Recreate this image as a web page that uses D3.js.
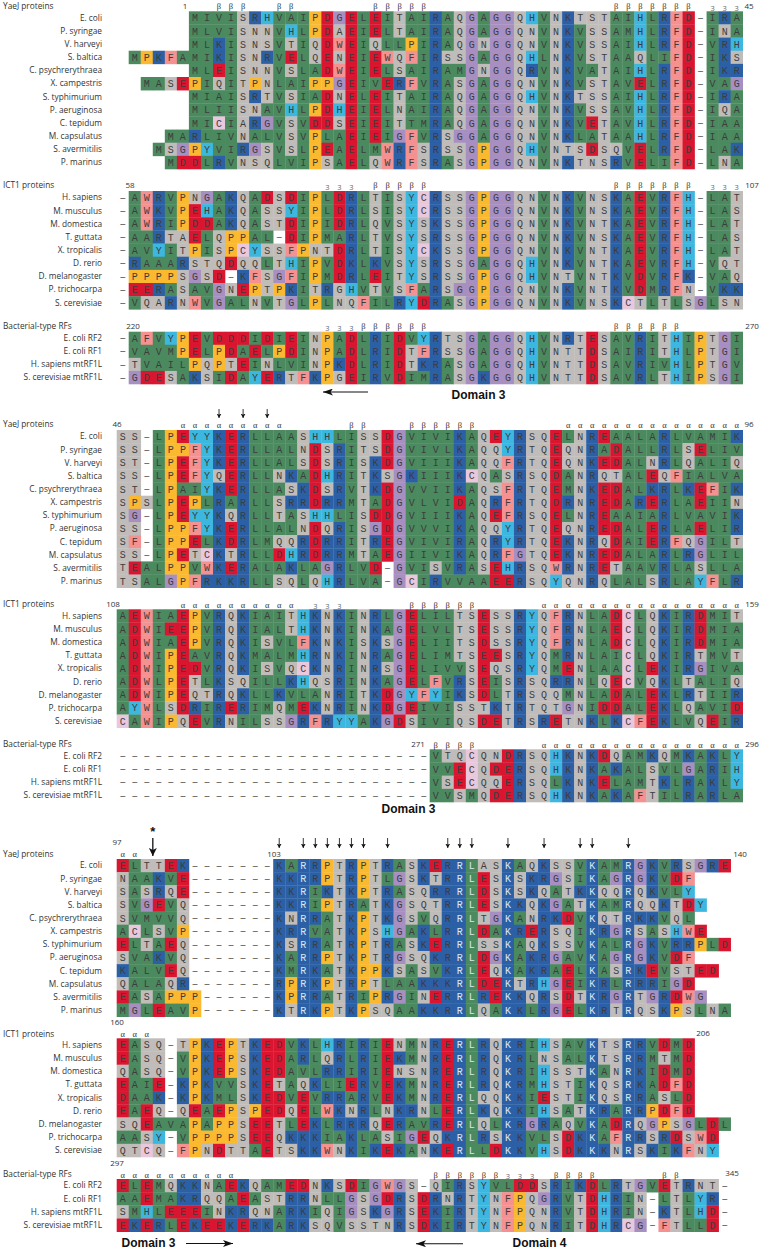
<!DOCTYPE html>
<html><head><meta charset="utf-8">
<script src="https://cdn.jsdelivr.net/npm/d3@7"></script>
<style>body{margin:0;background:#fff}svg{display:block}</style></head>
<body><svg id="c" width="761" height="1251"></svg>
<script>
// Residue strings: upper case = the residue's usual class colour, lower case = exception
// (grey for coloured residues, green for S/T/N/Q). "-" is a gap, " " is empty.
const yaejNames = ["E. coli","P. syringae","V. harveyi","S. baltica","C. psychrerythraea","X. campestris","S. typhimurium","P. aeruginosa","C. tepidum","M. capsulatus","S. avermitilis","P. marinus"];
const ictNames = ["H. sapiens","M. musculus","M. domestica","T. guttata","X. tropicalis","D. rerio","D. melanogaster","P. trichocarpa","S. cerevisiae"];
const bactNames = ["E. coli RF2","E. coli RF1","H. sapiens mtRF1L","S. cerevisiae mtRF1L"];

const yaej1 = [
"     MIVISRHVAIPDGELEITAIRAQGAGGQHVNKTSTAIHLRFD-IRA",
"     MLVISNNVHLPDaEIELTAIRAQGAGGQNVNKVSSAMHLRFD-INA",
"     MLKISNSVTIQDWEIQLLPIRAQGNGGQNVNKVSSAIHLRFD-VRH",
"MPKFAMIKISNRVELQENEIEWQFIRSSGAGGQHLNKVSTAAQLIFD-IKS",
"     MLEISNNVSLADWEIELSAIRAMGNGGQRVNKVATAIHLRFD-IKR",
" MASEPIQITPNLAIPPGEIVERFVRASGAGGQNVNKVSTAVELRFD-VAG",
"     MIAISRTVSIADNELEITAIRAQGAGGQHVNKTSSAIHLRFD-IRA",
"     MLIISNAVHLPDHEIELNAIRAQGAGGQNVNKVSSAVHLRFD-IQA",
"     MICIaRGVSVDDSEIEITtMRAQGAGGQNVNKVETAVHLRFD-IAA",
"   MARLIVNALVSVPLAEIEIGFVRSGGAGGQNVNKLATAAHLRFD-IAA",
"  MSGPYVIRGSVSLPEAELMWRFSRSSGPGGQHVNTSDSQVELRFD-LAK",
"   MDDLRVNSQLVIPSAELQWRFSRASGPGGQNVNKTNSRVELIFD-LNA"];
const ict1 = [
"-AWRVPNGAKQADSDIPLDRLTISYCRSSGPGGQNVNKVNSKAEVRFH-LAT",
"-AWKVPEHAKQASSYIPLDRLSISYCRSSGPGGQNVNKVNSKAEVRFH-LAS",
"-AWRIPDDAKQASTDIPIDRLQVSYSKSSGPGGQNVNKVNTKAEVRFH-LAT",
"-AARTaELQPPAL-DIPMARLTVSYSRSSGPGGQNVNKVNSKAEVRFH-LAS",
"-AVYITPISPCYSSFPNTDRLTISYCKSSGPGGQNVNKVNTKAEVRFH-LAT",
"-RAAARSTQDQQLTHIPVDKLKVSYSRSSGAGGQHVNKVNTKAEVRFH-VQT",
"-PPPPSGSD-KFSGFIPMDRLEITYSRSSGPGGQHVNTVNTKVDVRFK-VAQ",
"-EERASAVGNEPTPKITRgHVTVSFARSGGPGGQNVNKVNTKVDMRFN-VKK",
"-VQaRNWVGALNVTGLPLNQFILRYDRASGPGGQNVNKVNSKCTLTLSGLSN"];
const bact1 = [
"-AFVYPEVDDDIDIEINPADLRIDVYRTSGAGGQHVNRTESAVRITHIPTGI",
"-VAVMPELPDAELPDINPADLRIDTFRSSGAGGQHVNTTDSAIRITHLPTGI",
"-TVAILPQPTEINLVINPKDLRIDTKRASGAGGQHVNTTDSAVRIVHLPTGV",
"-GDESAKSIDAYERTFKPgEIRVDIMRASGKGGQHVNTTDSAVRLTHIPSGI"];

const yaej2 = [
"SS-LPEYYKERLLAASHHLISSDGVIVIKAQEYRSQELNREAALARLVAMIK",
"SS-LPPFYKERLLALNDSRITSDGVIVLKAQQYRTQEQNRADALLRLSELIV",
"ST-LPEFYKERLLALSDSRISKDGVIIIKAQQFRTQEQNKEDALNRLQALIQ",
"SS-LPEFYQERLLNKADHRITKSGKIIIKCQASRSQDANRQTALEQFIALVA",
"ST-LPAIYKERLLASKDSRVTKDGVVIIKAQSFRTQEMNKEDALKRLKEFIK",
"SPSLPEPLRARLLSRRDRRMTADGVLVIDAQRFRTQDRNREDARERLAEIIN",
"SG-LPEYYKQRLLTASHHLISDDGVIIIKAQEFRSQELNREAAIARLVAVIK",
"SS-LPPFYKERLLALNDQRISGDGVVVIKAQQYRTQEQNREDALERLAELIR",
"SF-LPPELKDRLMQQRDRRITREGVIVIRAQRYRTQEKNRQDAIERFQGILT",
"SS-LPETCKTRLLDHRDRRMTAEGIIVIKAQRFGTQEKNREDALARLRGLIL",
"TEALPPVWKERALAKLAGRLVD-GVISVRASEHRSQWRNRETAAVRLASLLA",
"TSALGPFRKKRLLSQLQHRLVA-GCIRVVAAEERSQYQNRQLALSRLAYFLR"];
const ict2 = [
"AEWIAEPVRQKIAITHKNKINRLGELILTSESSRYQFRNLADCLQKIRDMIT",
"ADWIEEPVRQKIALTHKNKINKAGELVLTSESSRYQFRNLAECLQKIRDMIA",
"ADWIAEPVRQKISVLFKNKISKSGELIITSDSSRYQFRNLADCLQKIRDMIA",
"ADWIPEAVRQKMALMHRNKINRAGELIMTSEESRYQMRNLAICLQKIRTMVT",
"ADWIPEDVRQKISVQCKNRINRSGELIVVSEQSRYQMENLAACLEKIRGIVA",
"ADWLPETLKSQILLKHQSRINKAGELFVRSEISRSQRRNLQECVQKLTALIQ",
"ADWIPEQTRQKLLKVLANRITKDGYFYIKSDLTRSQQMNLADALEKLRTIIR",
"AYWLSDRIRERIMQMEKNRINKDGEIVISSTKTRTQTGNIDDALEKLQAVID",
"CAWIPQEVRNILSSGRFRYYAKGDSIVIQSDETRSRETNKLKCFEKLVQEIR"];
const bact2 = [
"--------------------------VTQCQNDRSQHKNKDQAMKQMKAKLY",
"--------------------------VVECQDERSQHKNKAKALSVLGARIH",
"--------------------------VSECQQERSQLKNKELAMTKLRAKLY",
"--------------------------VVSMQDERSQHKNKAKAFTILRARLA"];

const yaej3 = [
"ELTTEK-------KARRPTRPTRASKERRLaSKAQKSSVKAMRGKVRSGRE",
"NAAKVE-------KKRRPTRPTLGSKTRRLESKSKRGSIKAGRGKVDF",
"SASRQE-------KKRIKTKPTRASQRRRLDSKSKQATKKQQRQKVLY",
"SVGEVQ-------KKRIPTRATKGSQTRRLESKKQKGATKAMRQQKTDY",
"SVMVVQ-------KNRRATKPTKGSVQRRLTGKANRKDVKQTRKKVQL",
"ACLSVP-------KRRVATKPSHGAKLRRLDAKRERSQIKRGRSASHWE",
"ELTAEQ-------KSRRATRPTRASKERRLSSKAQKSSVKALRGKVRRPLD",
"SVAKVQ-------KARRPTKPTRGSQKRRLDGKAKRGAVKAGRGKVDF",
"KALVEQ-------KMRKATKPPKSASVKRLEQKAKRAELKASRKEVSTED",
"QALAQR-------RPRKPTRPTLAAKKKRLDEKTRHGEIKRLRRRIGD",
"EASAPPP------KPRRATRIPRGINERRLREKKQRSDTKRGRTGRDWG",
"MGLEAVP------KTRKPTKPSQAAKKRRLQAKKLRGELKRTRQSKPSLNA"];
const ict3 = [
"EASQ-TPKEPTKEDVKLHRIRIENMNRERLRQKRIHSAVKTSRRVDMD",
"EASQ-VPKEPSKEDARLQRLRIEKMNRERLRQKRLNSALKTSRRMTMD",
"QASQ-VPKEPSKEDAVLRRIRIENSNRERLRQKRIHSSTKANRKIDMD",
"EAIE-KPKVVSKETAQKLIERVEKMNRERLRQKRMHSTIKQSRKADFD",
"DAAK-KPKMLSKEDVEVRRARVEKMNRERLQQKKIESTIKQSRRASLD",
"EAEQ-QEAEPSPEDQELWKNRLNKRNLERLKQKKIHSATKRARRPDFD",
"SQEAVAPAPPSEETLEKLRRRQERAVRERLQLKRGRAQVKADRQGPSGLDL",
"AASY-VPPPPSEEQKKKIAKLASIGEQKRLRSKKVLSDKKAFRRSRDSWD",
"QTCQ-FPNDTTAETSKKWNKIKEKANKERLLDKKVHSDKKKNRSKIKFNY"];
const bact3 = [
"ELEMQKKNAEKQAMEDNKSDIGWGS-QIRSYVLDDSRIKDLRTGVETRNT-",
"AAEMAKRQQAEASTRRNLLGSGDRSDRNRTYNFPQGRVTDHRIN-LTLYR-",
"SMHLEEEINKRQNARKIQIGSKGRSEKIRTYNFPQNRVTDHRIN-KTLHD-",
"EKERLEKEEKERKARKSQVSSTNRSDKIRTYNFPQNRITDHRCG-FTLLD-"];

// residue classes and their colours
const classNames = ["hydrophobic","basic","acidic","proline","aromatic","bulky","glycine","cysteine","polar"];
const classColors = ["#4b8a5f","#2b60a6","#d9152f","#fbb92f","#3cb7e0","#f59191","#a88fc2","#e9c8dd","#c0bcba"];
const residueClass = {A:0,I:0,L:0,M:0,V:0,K:1,R:1,D:2,E:2,P:3,H:4,Y:4,F:5,W:5,G:6,C:7,S:8,T:8,N:8,Q:8};

const fill = d3.scaleOrdinal(classNames, classColors);
function classOf(ch){
  const up = ch.toUpperCase(), base = classNames[residueClass[up]];
  if (ch === up) return base;
  return base === "polar" ? "hydrophobic" : "polar";
}

// layout of each aligned panel
const L1 = 128.7, L2 = 116.7, R = 742.7;
const panels = [
 {head:"YaeJ proteins",      headY:6,    names:yaejNames, rows:yaej1, left:L1, cols:51, start:0,  top:11.3,  bot:169},
 {head:"ICT1 proteins",      headY:185.5,names:ictNames,  rows:ict1,  left:L1, cols:51, start:-1, top:191,   bot:309.3},
 {head:"Bacterial-type RFs", headY:326,  names:bactNames, rows:bact1, left:L1, cols:51, start:-1, top:331.7, bot:384},
 {head:"YaeJ proteins",      headY:424.5,names:yaejNames, rows:yaej2, left:L2, cols:52, start:0,  top:430,   bot:587.7},
 {head:"ICT1 proteins",      headY:604,  names:ictNames,  rows:ict2,  left:L2, cols:52, start:0,  top:609.3, bot:727.7},
 {head:"Bacterial-type RFs", headY:744.5,names:bactNames, rows:bact2, left:L2, cols:52, start:0,  top:749.3, bot:802},
 {head:"YaeJ proteins",      headY:854,  names:yaejNames, rows:yaej3, left:L2, cols:52, start:0,  top:859,   bot:1016.7, light:[15,28,29,32,39,42]},
 {head:"ICT1 proteins",      headY:1033.7,names:ictNames, rows:ict3,  left:L2, cols:52, start:0,  top:1038.3,bot:1157, light:[28,29,32,39,42]},
 {head:"Bacterial-type RFs", headY:1173.7,names:bactNames,rows:bact3, left:L2, cols:52, start:0,  top:1179,  bot:1231.7}
];

// secondary-structure marks above each panel: glyph, columns
const marks = [
 {p:0,y:6,g:"β",cols:[7,8,9,12,13,20,21,22,23,24,40,41,42,43,44,45,46]},
 {p:0,y:8.5,g:"3",cols:[48,49,50]},
 {p:1,y:185,g:"β",cols:[20,21,22,23,24,40,41,42,43,44,45,46]},
 {p:1,y:187.5,g:"3",cols:[16,17,18,48,49,50]},
 {p:2,y:326,g:"β",cols:[19,20,21,22,23,24,40,41,42,43,44,45]},
 {p:2,y:328,g:"3",cols:[16,17,18]},
 {p:3,y:425,g:"α",cols:[5,6,7,8,9,10,11,12,13,37,38,39,40,41,42,43,44,45,46,47,48,49,50,51]},
 {p:3,y:425,g:"β",cols:[19,20,24,25,26,27,28,29]},
 {p:4,y:605,g:"α",cols:[5,6,7,8,9,10,11,12,13,14,35,36,37,38,39,40,41,42,43,44,45,46,47,48,49,50,51]},
 {p:4,y:606.5,g:"3",cols:[16,17,18]},
 {p:4,y:605,g:"β",cols:[24,25,26,27,28,29]},
 {p:5,y:745,g:"β",cols:[26,27,28,29]},
 {p:5,y:745,g:"α",cols:[35,36,37,38,39,40,41,42,43,44,45,46,47,48,49,50,51]},
 {p:6,y:854,g:"α",cols:[0,1]},
 {p:7,y:1034,g:"α",cols:[0,1,2]},
 {p:8,y:1174.7,g:"α",cols:[0,1,2,3,4,5,6,7,8,9]},
 {p:8,y:1175,g:"β",cols:[26,27,28,29,30,31,36,37,38,39,45,46]},
 {p:8,y:1176.5,g:"3",cols:[32,33,34]}
];
// sequence numbers
const numbers = [
 ["1",185,6],["45",749,6],["58",130,185],["107",752,185],["220",133,326],["270",752,326],
 ["46",117,424],["96",749,424],["108",113,604],["159",752,604],["271",418,744],["296",752,744],
 ["97",117,841.7],["103",274,853.7],["140",740,853.7],["160",117,1022],["206",703,1033],["297",117,1163],["345",732,1173]
];
// thin arrows: panel, columns, y from, y to
const downArrows = [
 {p:3,cols:[8,10,12],y0:409,y1:418},
 {p:6,cols:[13,15,16,17,18,19,20,22,27,28,29,32,35,38,39,42],y0:838,y1:848}
];
const domains = [["Domain 3",478.5,395],["Domain 3",408.5,809],["Domain 3",148.5,1243],["Domain 4",539.5,1243]];
const longArrows = [[368,323,392],[186,233,1243.5],[463,416,1243.7]];

const svg = d3.select("#c");
const defs = svg.append("defs");
function head(id,w,h){
  defs.append("marker").attr("id",id).attr("viewBox",`0 0 ${w} ${h}`).attr("refX",w).attr("refY",h/2)
    .attr("markerWidth",w).attr("markerHeight",h).attr("markerUnits","userSpaceOnUse").attr("orient","auto")
    .append("path").attr("d",`M0,0L${w},${h/2}L0,${h}L${w*0.25},${h/2}Z`).attr("fill","#111");
}
head("big",10,7); head("small",4.5,5); head("mid",8,8);

const seqFont = "'Liberation Mono','Courier New',monospace";
const lblFont = "'Open Sans','Noto Sans',sans-serif";
const scales = [];

panels.forEach((p,pi)=>{
  const x = d3.scaleLinear().domain([0,p.cols]).range([p.left,R]);
  const y = d3.scaleLinear().domain([0,p.rows.length]).range([p.top,p.bot]);
  scales[pi] = {x,y};
  const g = svg.append("g");
  const cells = [];
  p.rows.forEach((s,r)=>{
    Array.from(s).forEach((ch,i)=>{
      if (ch===" ") return;
      cells.push({r,c:i+p.start,ch});
    });
  });
  const res = cells.filter(d=>d.ch!=="-");
  g.selectAll("rect").data(res).join("rect")
    .attr("x",d=>x(d.c)).attr("y",d=>y(d.r))
    .attr("width",x(1)-x(0)+0.3).attr("height",y(1)-y(0)+0.3)
    .attr("fill",d=>fill(classOf(d.ch)));
  const light = new Set(p.light||[]);
  g.selectAll("text.res").data(res).join("text").attr("class","res")
    .attr("x",d=>x(d.c+0.5)).attr("y",d=>y(d.r+0.5)).attr("dy","0.35em")
    .attr("text-anchor","middle").attr("font-family",seqFont).attr("font-size",10)
    .attr("fill",d=>light.has(d.c)?"#dbe6f0":"#3d3d3d")
    .text(d=>d.ch.toUpperCase());
  g.selectAll("text.gap").data(cells.filter(d=>d.ch==="-")).join("text").attr("class","gap")
    .attr("x",d=>x(d.c+0.5)).attr("y",d=>y(d.r+0.5)).attr("dy","0.35em")
    .attr("text-anchor","middle").attr("font-family","'Liberation Sans',sans-serif").attr("font-size",9)
    .attr("fill","#333").text("–");
  g.selectAll("text.lbl").data(p.names).join("text").attr("class","lbl")
    .attr("x",102).attr("y",(d,i)=>y(i+0.5)).attr("dy","0.35em").attr("text-anchor","end")
    .attr("font-family",lblFont).attr("font-size",8.3).attr("fill","#333").text(d=>d);
  svg.append("text").attr("x",3).attr("y",p.headY).attr("dy","0.35em")
    .attr("font-family",lblFont).attr("font-size",8.3).attr("fill","#333").text(p.head);
});

marks.forEach(m=>{
  const {x} = scales[m.p];
  svg.append("g").selectAll("text").data(m.cols).join("text")
    .attr("x",c=>x(c+0.5)).attr("y",m.y).attr("dy","0.35em").attr("text-anchor","middle")
    .attr("font-family",m.g==="3"?lblFont:"'Liberation Serif',serif")
    .attr("font-size",m.g==="3"?7.5:8.5).attr("fill",m.g==="3"?"#666":"#333").text(m.g);
});

svg.append("g").selectAll("text").data(numbers).join("text")
  .attr("x",d=>d[1]).attr("y",d=>d[2]).attr("dy","0.35em").attr("text-anchor","middle")
  .attr("font-family",lblFont).attr("font-size",8).attr("fill","#333").text(d=>d[0]);

downArrows.forEach(a=>{
  const {x} = scales[a.p];
  svg.append("g").selectAll("line").data(a.cols).join("line")
    .attr("x1",c=>x(c+0.5)).attr("x2",c=>x(c+0.5)).attr("y1",a.y0).attr("y2",a.y1)
    .attr("stroke","#222").attr("stroke-width",0.9).attr("marker-end","url(#small)");
});
// catalytic-site arrow and star (between columns 2 and 3 of the third block)
const starX = scales[6].x(3);
svg.append("line").attr("x1",starX).attr("x2",starX).attr("y1",838).attr("y2",856)
  .attr("stroke","#111").attr("stroke-width",1.3).attr("marker-end","url(#mid)");
svg.append("text").attr("x",starX).attr("y",835.5).attr("text-anchor","middle")
  .attr("font-family","'Liberation Sans',sans-serif").attr("font-weight","bold").attr("font-size",13).attr("fill","#111").text("*");

svg.append("g").selectAll("line").data(longArrows).join("line")
  .attr("x1",d=>d[0]).attr("x2",d=>d[1]).attr("y1",d=>d[2]).attr("y2",d=>d[2])
  .attr("stroke","#111").attr("stroke-width",1.1).attr("marker-end","url(#big)");
svg.append("g").selectAll("text").data(domains).join("text")
  .attr("x",d=>d[1]).attr("y",d=>d[2]).attr("dy","0.35em").attr("text-anchor","middle")
  .attr("font-family","'Liberation Sans',sans-serif").attr("font-weight","bold").attr("font-size",12).attr("fill","#111").text(d=>d[0]);
</script></body></html>
